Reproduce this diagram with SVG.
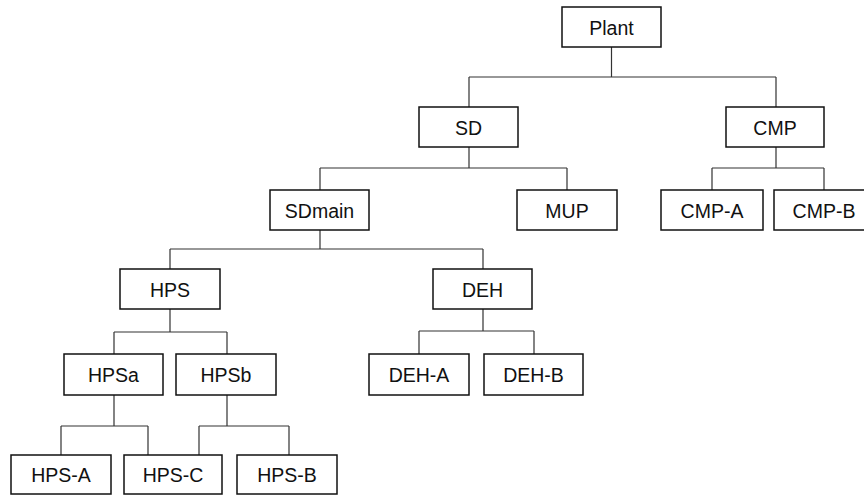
<svg xmlns="http://www.w3.org/2000/svg" width="864" height="496" viewBox="0 0 864 496">
  <style>
    .box { fill: #ffffff; stroke: #111111; stroke-width: 1.5; }
    .lbl { font-family: "Liberation Sans", Arial, sans-serif; font-size: 19.5px; fill: #111111; text-anchor: middle; }
    .link { fill: none; stroke: #333333; stroke-width: 1.2; }
  </style>
  <rect width="864" height="496" fill="#ffffff"/>

  <!-- tree connectors: parent drop, horizontal bus, child drops -->
  <g id="connectors" class="link">
    <path d="M611.5 47 V77 M469 77 H776 M469 77 V107 M776 77 V107"/>
    <path d="M469 147 V168 M320 168 H567 M320 168 V190 M567 168 V190"/>
    <path d="M776 147 V168 M712 168 H824 M712 168 V190 M824 168 V190"/>
    <path d="M320 230 V249 M170 249 H483 M170 249 V269 M483 249 V269"/>
    <path d="M170 309 V332 M114 332 H227 M114 332 V354 M227 332 V354"/>
    <path d="M483 309 V331 M419 331 H534 M419 331 V354 M534 331 V354"/>
    <path d="M114 395 V426 M61 426 H148 M61 426 V455 M148 426 V455"/>
    <path d="M227 395 V426 M199 426 H289 M199 426 V455 M289 426 V455"/>
  </g>

  <g id="plant"><rect class="box" x="562" y="7" width="99" height="40"/><text class="lbl" x="611.5" y="34.5">Plant</text></g>
  <g id="sd"><rect class="box" x="419" y="107" width="99" height="40"/><text class="lbl" x="468.5" y="134.5">SD</text></g>
  <g id="cmp"><rect class="box" x="726" y="107" width="98" height="40"/><text class="lbl" x="775" y="134.5">CMP</text></g>
  <g id="sdmain"><rect class="box" x="270" y="190" width="99" height="40"/><text class="lbl" x="319.5" y="217.5">SDmain</text></g>
  <g id="mup"><rect class="box" x="517" y="190" width="100" height="40"/><text class="lbl" x="567" y="217.5">MUP</text></g>
  <g id="cmp-a"><rect class="box" x="661" y="190" width="102" height="40"/><text class="lbl" x="712" y="217.5">CMP-A</text></g>
  <g id="cmp-b"><rect class="box" x="774" y="190" width="100" height="40"/><text class="lbl" x="824" y="217.5">CMP-B</text></g>
  <g id="hps"><rect class="box" x="120" y="269" width="100" height="40"/><text class="lbl" x="170" y="296.5">HPS</text></g>
  <g id="deh"><rect class="box" x="433" y="269" width="99" height="40"/><text class="lbl" x="482.5" y="296.5">DEH</text></g>
  <g id="hpsa"><rect class="box" x="64" y="354" width="99" height="41"/><text class="lbl" x="113.5" y="382">HPSa</text></g>
  <g id="hpsb"><rect class="box" x="176" y="354" width="100" height="41"/><text class="lbl" x="226" y="382">HPSb</text></g>
  <g id="deh-a"><rect class="box" x="369" y="354" width="100" height="41"/><text class="lbl" x="419" y="382">DEH-A</text></g>
  <g id="deh-b"><rect class="box" x="484" y="354" width="99" height="41"/><text class="lbl" x="533.5" y="382">DEH-B</text></g>
  <g id="hps-a"><rect class="box" x="11" y="455" width="100" height="39"/><text class="lbl" x="61" y="482">HPS-A</text></g>
  <g id="hps-c"><rect class="box" x="124" y="455" width="98" height="39"/><text class="lbl" x="173" y="482">HPS-C</text></g>
  <g id="hps-b"><rect class="box" x="237" y="455" width="100" height="39"/><text class="lbl" x="287" y="482">HPS-B</text></g>
</svg>
